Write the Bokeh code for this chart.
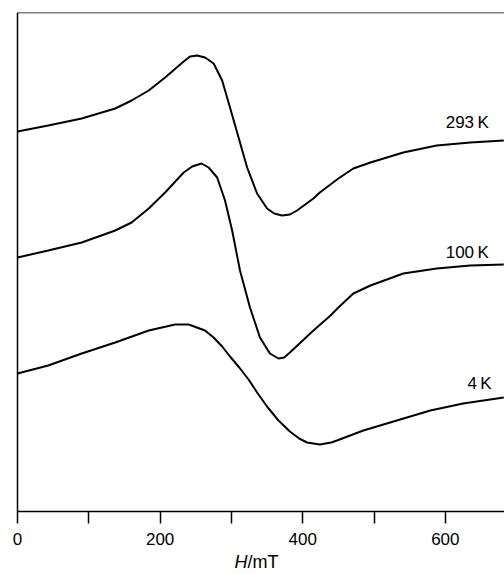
from bokeh.plotting import figure
from bokeh.models import FixedTicker, Label, Range1d, LinearAxis
from bokeh.embed import file_html
from bokeh.resources import INLINE

# Magnetic field H / mT and EPR signal (arbitrary units) for each temperature
field_293 = [0, 43, 90, 137, 160, 184, 207, 233, 242, 252, 263, 275, 287, 298, 310, 322, 336,
             350, 360, 371, 382, 392, 415, 424, 450, 471, 495, 541, 588, 635, 682]
signal_293 = [3.80, 3.86, 3.93, 4.03, 4.11, 4.21, 4.34, 4.50, 4.55, 4.56, 4.54, 4.48, 4.31, 4.04, 3.74, 3.44, 3.18,
              3.03, 2.98, 2.96, 2.97, 3.01, 3.13, 3.19, 3.33, 3.43, 3.49, 3.59, 3.66, 3.69, 3.71]

field_100 = [0, 43, 90, 137, 160, 184, 207, 233, 245, 258, 268, 280, 291, 301, 312, 326, 340,
             354, 366, 374, 382, 415, 439, 450, 471, 495, 541, 588, 635, 682]
signal_100 = [2.54, 2.61, 2.69, 2.81, 2.89, 3.03, 3.19, 3.39, 3.45, 3.48, 3.44, 3.34, 3.11, 2.81, 2.41, 2.04, 1.74,
              1.58, 1.53, 1.54, 1.59, 1.81, 1.96, 2.04, 2.18, 2.26, 2.38, 2.43, 2.46, 2.47]

field_4 = [0, 43, 90, 137, 184, 221, 240, 263, 275, 287, 298, 311, 324, 337, 351, 366, 382,
           395, 406, 424, 440, 448, 485, 532, 579, 625, 682]
signal_4 = [1.38, 1.46, 1.58, 1.69, 1.81, 1.87, 1.87, 1.81, 1.74, 1.65, 1.55, 1.44, 1.32, 1.18, 1.04, 0.91, 0.80,
            0.73, 0.69, 0.67, 0.69, 0.71, 0.81, 0.91, 1.01, 1.08, 1.14]

series_labels = ["293\u2009K", "100\u2009K", "4\u2009K"]
x_ticks = [0, 100, 200, 300, 400, 500, 600]
x_tick_labels = {0: "0", 100: "", 200: "200", 300: "", 400: "400", 500: "", 600: "600"}

FONT = "Liberation Sans"
X_MAX = 683
Y_TOP = 4.99

p = figure(width=504, height=574, output_backend="svg", toolbar_location=None,
           x_range=Range1d(-23.9, X_MAX), y_range=Range1d(-0.63, Y_TOP),
           x_axis_location=None, y_axis_location=None,
           min_border_left=0, min_border_right=0, min_border_top=12, min_border_bottom=0)

p.background_fill_color = "white"
p.border_fill_color = "white"
p.outline_line_color = None
p.xgrid.visible = False
p.ygrid.visible = False

# bottom axis, drawn at signal = 0
ax = LinearAxis(fixed_location=0, ticker=FixedTicker(ticks=x_ticks), bounds=(0, X_MAX))
ax.major_label_overrides = x_tick_labels
ax.major_tick_in = 0
ax.major_tick_out = 12
ax.minor_tick_in = 0
ax.minor_tick_out = 0
ax.axis_line_color = "black"
ax.axis_line_width = 1.5
ax.major_tick_line_color = "black"
ax.major_tick_line_width = 1.5
ax.major_label_text_font = FONT
ax.major_label_text_font_size = "17px"
ax.major_label_text_color = "black"
ax.major_label_standoff = 9
p.add_layout(ax, "below")

# plain left and top frame lines
def plain_axis(loc, bounds):
    a = LinearAxis(fixed_location=loc, ticker=FixedTicker(ticks=[]), bounds=bounds)
    a.axis_line_color = "black"
    a.axis_line_width = 1.5
    a.major_tick_line_color = None
    a.minor_tick_line_color = None
    a.major_label_text_font_size = "0px"
    return a

p.add_layout(plain_axis(0, (0, Y_TOP)), "left")
p.add_layout(plain_axis(Y_TOP, (0, X_MAX)), "above")

for fx, sy in [(field_293, signal_293), (field_100, signal_100), (field_4, signal_4)]:
    p.line(fx, sy, line_color="black", line_width=2)

label_pos = [(661, 3.89), (661, 2.59), (665, 1.28)]
for (lx, ly), txt in zip(label_pos, series_labels):
    p.add_layout(Label(x=lx, y=ly, text=txt, text_align="right", text_baseline="alphabetic",
                       text_font=FONT, text_font_size="17px", text_color="black"))

p.add_layout(Label(x=322.7, y=-0.50, text="H", text_align="right", text_baseline="alphabetic",
                   text_font=FONT, text_font_size="18px", text_font_style="italic", text_color="black"))
p.add_layout(Label(x=322.7, y=-0.50, text="/mT", text_align="left", text_baseline="alphabetic",
                   text_font=FONT, text_font_size="18px", text_color="black"))

open("out.html", "w").write(file_html(p, INLINE))
